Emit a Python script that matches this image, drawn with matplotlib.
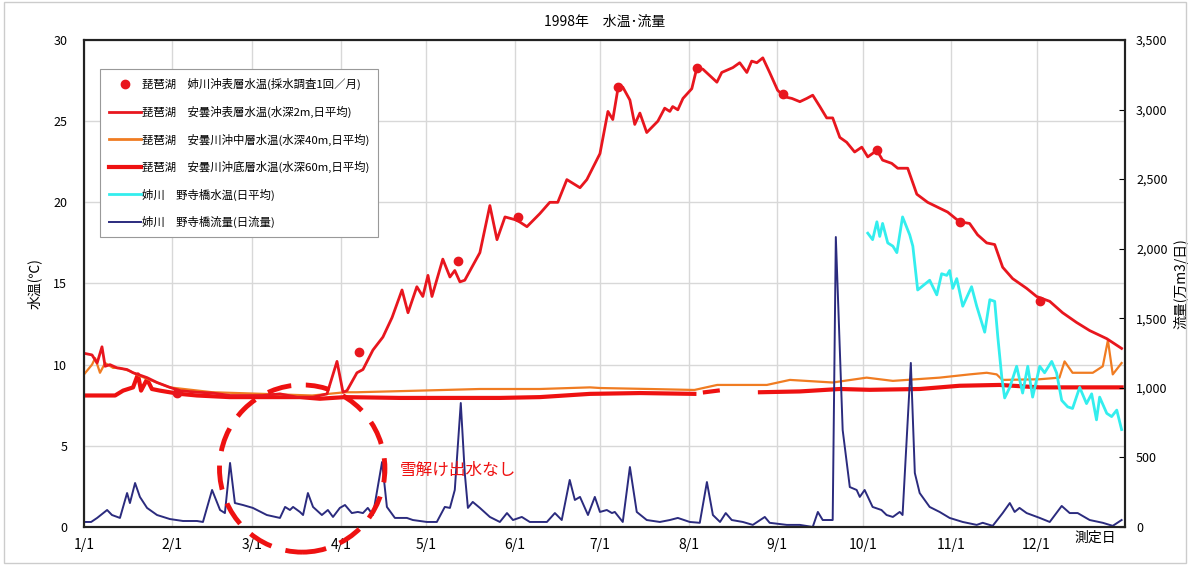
import numpy as np
import matplotlib
matplotlib.use("Agg")
import matplotlib.pyplot as plt
from matplotlib.patches import Ellipse, Rectangle
from matplotlib.lines import Line2D
from matplotlib.ticker import FuncFormatter

plt.rcParams['font.family'] = ['Noto Sans CJK JP', 'DejaVu Sans']

# x axis: day of year (1/1 = 0)
month_days = [0, 31, 59, 90, 120, 151, 181, 212, 243, 273, 304, 334]
month_labels = ["1/1", "2/1", "3/1", "4/1", "5/1", "6/1", "7/1", "8/1", "9/1", "10/1", "11/1", "12/1"]

# 琵琶湖 姉川沖表層水温 (monthly sampling)
dot_day = [32.6, 96.4, 131.0, 152.0, 187.2, 214.9, 245.0, 278.0, 307.0, 335.1]
dot_temp = [8.25, 10.8, 16.4, 19.1, 27.1, 28.3, 26.7, 23.2, 18.8, 13.9]

# 琵琶湖 安曇沖表層水温 (2m)
surf_day = [0, 2.8, 4.6, 6.3, 7.4, 9.1, 11.6, 15.1, 17.2, 18.9, 22.1, 25.6, 30.1, 33.6,
            39.6, 45.2, 51.2, 57.1, 62.7, 68.7, 74.7, 80.3, 85.2, 88.7, 90.8, 92.2, 95.7,
            97.8, 101.3, 104.8, 108.0, 111.5, 113.6, 116.7, 118.8, 120.6, 122.0, 125.8,
            128.3, 130.0, 131.8, 133.5, 136.3, 138.8, 142.3, 144.8, 147.6, 151.8, 155.3,
            159.8, 163.3, 166.1, 169.3, 173.9, 176.3, 180.9, 183.7, 185.4, 187.2, 188.9,
            191.4, 193.1, 194.9, 197.3, 201.2, 203.6, 205.4, 206.4, 208.2, 210.0, 213.1,
            214.9, 217.0, 221.9, 223.6, 227.5, 229.9, 232.4, 234.1, 235.9, 238.0, 240.4,
            243.2, 245.7, 248.2, 251.0, 253.4, 255.5, 258.0, 260.4, 262.5, 265.0, 267.4,
            270.2, 272.7, 274.8, 278.0, 280.0, 283.2, 285.3, 288.8, 292.0, 295.8, 299.3,
            302.8, 307.0, 310.5, 313.3, 316.5, 319.3, 322.1, 325.6, 330.5, 334.0, 338.6,
            343.1, 348.0, 352.6, 358.6, 363.8]
surf_temp = [10.7, 10.6, 10.1, 11.1, 9.9, 10.0, 9.8, 9.7, 9.5, 9.4, 9.2, 8.9, 8.6, 8.4,
             8.3, 8.25, 8.1, 8.1, 8.1, 8.2, 8.0, 8.0, 8.2, 10.2, 8.3, 8.4, 9.5,
             9.7, 10.9, 11.7, 12.9, 14.6, 13.2, 14.8, 14.2, 15.5, 14.2, 16.5,
             15.4, 15.8, 15.1, 15.2, 16.1, 16.9, 19.8, 17.7, 19.1, 18.9, 18.5,
             19.3, 20.0, 20.0, 21.4, 20.9, 21.4, 23.0, 25.6, 25.1, 27.0, 27.1,
             26.3, 24.8, 25.5, 24.3, 25.0, 25.8, 25.6, 25.9, 25.7, 26.4, 27.0,
             28.3, 28.2, 27.4, 28.0, 28.3, 28.6, 28.0, 28.7, 28.6, 28.9, 28.0,
             26.9, 26.5, 26.4, 26.2, 26.4, 26.6, 25.9, 25.2, 25.2, 24.0, 23.7,
             23.1, 23.4, 22.8, 23.2, 22.6, 22.4, 22.1, 22.1, 20.5, 20.0, 19.7,
             19.4, 18.8, 18.7, 18.0, 17.5, 17.4, 16.0, 15.3, 14.7, 14.2, 13.9,
             13.2, 12.6, 12.1, 11.6, 11.0]

# 琵琶湖 安曇川沖中層水温 (40m)
mid_day = [0, 2.8, 3.9, 5.6, 7.4, 10.2, 12.6, 16.1, 19.6, 30.0, 45.0, 62.7, 80.0, 91.5,
           95.7, 117.8, 138.8, 159.8, 177.4, 181.0, 198.4, 214.0, 222.0, 239.4, 247.5,
           262.5, 274.4, 283.6, 300.0, 310.5, 316.5, 320.0, 322.0, 335.0, 342.0, 343.8,
           346.6, 353.7, 357.2, 359.0, 360.7, 363.8]
mid_temp = [9.4, 10.0, 10.4, 9.5, 10.1, 9.8, 9.8, 9.6, 9.3, 8.6, 8.3, 8.2, 8.1, 8.3,
            8.3, 8.4, 8.5, 8.5, 8.6, 8.56, 8.5, 8.44, 8.75, 8.75, 9.06,
            8.9, 9.2, 9.0, 9.2, 9.4, 9.5, 9.4, 9.06, 9.1, 9.2, 10.2,
            9.5, 9.5, 9.9, 11.5, 9.4, 10.1]

# 琵琶湖 安曇川沖底層水温 (60m)
bot_day = [0, 5.6, 10.9, 13.7, 17.2, 18.9, 20.0, 22.1, 23.8, 26.6, 30.0, 33.6, 39.6,
           51.0, 68.7, 75.7, 82.7, 91.5, 110.8, 128.3, 145.8, 159.8, 177.4, 195.0, 214.0,
           216.0, 217.7, 222.2, 230.0, 237.0, 251.0, 265.0, 275.5, 293.0, 307.0, 321.0,
           335.0, 349.0, 363.8]
bot_temp = [8.1, 8.1, 8.1, 8.4, 8.6, 9.4, 8.4, 9.1, 8.5, 8.4, 8.3, 8.2, 8.1,
            8.0, 8.0, 8.0, 7.9, 8.0, 7.95, 7.95, 7.95, 8.0, 8.2, 8.25, 8.2,
            np.nan, 8.3, 8.4, np.nan, 8.3, 8.35, 8.5, 8.45, 8.5, 8.7, 8.75,
            8.6, 8.6, 8.6]

# 姉川 野寺橋水温
riv_day = [274.8, 276.5, 278.0, 279.0, 280.0, 281.8, 283.6, 285.0, 287.0, 289.5, 290.6,
           292.3, 296.5, 299.0, 300.7, 302.5, 303.5, 304.6, 306.0, 308.1, 311.2, 313.0,
           315.8, 317.6, 319.3, 320.4, 321.8, 322.8, 324.6, 327.0, 329.1, 330.9, 332.6,
           335.1, 336.8, 339.3, 341.0, 342.8, 344.9, 346.6, 349.1, 351.5, 353.3, 355.0,
           356.1, 358.6, 360.3, 362.1, 363.8]
riv_temp = [18.1, 17.7, 18.8, 17.9, 18.7, 17.5, 17.3, 16.9, 19.1, 18.0, 17.3,
            14.6, 15.2, 14.3, 15.6, 15.5, 15.8, 14.7, 15.3, 13.6, 14.8, 13.6,
            12.0, 14.0, 13.9, 11.7, 9.2, 7.95, 8.6, 9.9, 8.25, 9.9, 8.0,
            9.9, 9.5, 10.2, 9.5, 7.8, 7.4, 7.3, 8.6, 7.6, 8.2, 6.6,
            8.0, 7.0, 6.8, 7.2, 6.0]

# 姉川 野寺橋流量 (万m3/日)
flow_day = [0, 2.5, 4.6, 8.1, 9.8, 12.6, 15.1, 16.1, 17.9, 19.6, 22.1, 25.6, 30.1, 34.7,
            39.6, 41.7, 44.9, 47.7, 49.4, 51.2, 52.9, 55.7, 59.2, 64.1, 68.7, 70.5, 72.2,
            73.3, 75.7, 76.8, 78.5, 80.3, 83.4, 85.5, 87.3, 89.7, 91.5, 93.9, 96.0, 97.8,
            99.5, 101.3, 104.5, 106.2, 109.0, 113.2, 115.3, 120.2, 123.7, 126.5, 128.3,
            130.0, 132.1, 133.5, 134.6, 136.3, 138.8, 142.3, 145.8, 148.3, 150.4, 153.5,
            156.3, 162.3, 165.1, 167.5, 170.3, 172.1, 173.9, 176.7, 179.1, 180.9, 183.3,
            185.1, 186.1, 188.9, 191.4, 193.8, 197.3, 201.9, 205.4, 208.2, 212.4, 215.9,
            218.4, 220.5, 223.0, 225.0, 227.1, 231.0, 234.5, 238.7, 240.4, 246.4, 251.0,
            255.5, 257.3, 259.0, 262.5, 263.6, 266.0, 268.5, 270.9, 272.0, 273.7, 276.5,
            279.6, 281.4, 283.6, 286.0, 287.0, 289.9, 291.3, 293.0, 296.5, 300.0, 303.5,
            308.1, 313.0, 315.1, 318.6, 322.1, 324.6, 326.3, 328.0, 330.5, 335.1, 338.6,
            342.8, 345.6, 348.4, 352.6, 357.2, 360.7, 363.8]
flow_val = [36, 36, 65, 122, 86, 65, 244, 172, 316, 216, 137, 86, 57, 43,
            43, 36, 266, 122, 100, 460, 172, 158, 137, 86, 65, 144, 122,
            144, 108, 86, 244, 144, 86, 122, 72, 137, 158, 100, 108, 100,
            137, 86, 467, 144, 65, 65, 50, 36, 36, 144, 137,
            266, 891, 388, 137, 180, 137, 72, 36, 100, 50, 72,
            36, 36, 100, 50, 338, 194, 216, 86, 216, 108, 122,
            100, 108, 36, 431, 108, 50, 36, 50, 65, 36, 30,
            323, 86, 36, 100, 50, 36, 15, 72, 30, 15, 15,
            0, 108, 50, 50, 2084, 697, 287, 266, 216, 266, 144,
            122, 86, 72, 108, 86, 1179, 388, 244, 144, 108, 65,
            36, 15, 30, 8, 100, 172, 108, 137, 100, 65, 36,
            151, 100, 100, 50, 30, 8, 50]

labels = ["琵琶湖　姉川沖表層水温(採水調査1回／月)",
          "琵琶湖　安曇沖表層水温(水深2m,日平均)",
          "琵琶湖　安曇川沖中層水温(水深40m,日平均)",
          "琵琶湖　安曇川沖底層水温(水深60m,日平均)",
          "姉川　野寺橋水温(日平均)",
          "姉川　野寺橋流量(日流量)"]

c_surf = "#e8161e"
c_mid = "#f07c22"
c_bot = "#ee1111"
c_riv = "#33eeee"
c_flow = "#2b2b7e"

fig = plt.figure(figsize=(11.9, 5.65), dpi=100)
ax = fig.add_axes([0.0706, 0.0673, 0.8748, 0.8619])
ax2 = ax.twinx()

ax.plot(bot_day, bot_temp, color=c_bot, lw=3.0, zorder=2)
ax.plot(mid_day, mid_temp, color=c_mid, lw=1.6, zorder=3)
ax.plot(surf_day, surf_temp, color=c_surf, lw=2.0, zorder=4)
ax.plot(riv_day, riv_temp, color=c_riv, lw=2.0, zorder=4)
ax.plot(dot_day, dot_temp, "o", color=c_surf, ms=6, zorder=5)
ax2.plot(flow_day, flow_val, color=c_flow, lw=1.4)

ax.set_xlim(0, 365)
ax.set_ylim(0, 30)
ax2.set_ylim(0, 3500)
ax.set_xticks(month_days)
ax.set_xticklabels(month_labels, fontsize=10)
ax.set_yticks(range(0, 31, 5))
ax.tick_params(axis="y", length=0, labelsize=9, pad=12)
ax.tick_params(axis="x", length=0, labelsize=10, pad=8)
ax2.set_yticks(range(0, 3501, 500))
ax2.yaxis.set_major_formatter(FuncFormatter(lambda v, p: "{:,.0f}".format(v)))
ax2.tick_params(axis="y", direction="in", length=4, labelsize=9, pad=8)
ax.grid(True, color="#d8d8d8", lw=1.0)
for a in (ax, ax2):
    for s in a.spines.values():
        s.set_linewidth(1.5)
        s.set_color("#222222")

ax.set_ylabel("水温(℃)", fontsize=10, labelpad=8)
ax2.set_ylabel("流量(万m3/日)", fontsize=10)
ax2.yaxis.set_label_coords(1.047, 0.5)
ax.set_title("1998年　水温･流量", fontsize=10, pad=10)
ax.text(0.971, -0.022, "測定日", transform=ax.transAxes, ha="center", va="center", fontsize=10)

# annotation: no snow-melt runoff
ell = Ellipse((76.5, 3.6), 58, 10.3, transform=ax.transData, fill=False,
              edgecolor="#ee1111", lw=3.5, ls=(0, (5, 3)), clip_on=False, zorder=10)
ax2.add_patch(ell)
ax2.text(110.8, 3.5 * 3500 / 30, "雪解け出水なし", color="#ee1111", fontsize=12,
         ha="left", va="center")

handles = [Line2D([], [], ls="", marker="o", color=c_surf, ms=6),
           Line2D([], [], color=c_surf, lw=2.0),
           Line2D([], [], color=c_mid, lw=2.0),
           Line2D([], [], color=c_bot, lw=3.0),
           Line2D([], [], color=c_riv, lw=2.0),
           Line2D([], [], color=c_flow, lw=1.4)]
leg = ax2.legend(handles, labels, loc="upper left", bbox_to_anchor=(0.015, 0.94),
                 fontsize=8.2, labelspacing=1.35, handlelength=2.8, handletextpad=0.1,
                 borderpad=0.8, fancybox=False, framealpha=1, edgecolor="#999999",
                 borderaxespad=0)
leg.get_frame().set_linewidth(0.8)

fig.patches.append(Rectangle((0.003, 0.003), 0.994, 0.994, transform=fig.transFigure,
                             fill=False, edgecolor="#cccccc", lw=1.0))

fig.savefig("out.png", dpi=100)
